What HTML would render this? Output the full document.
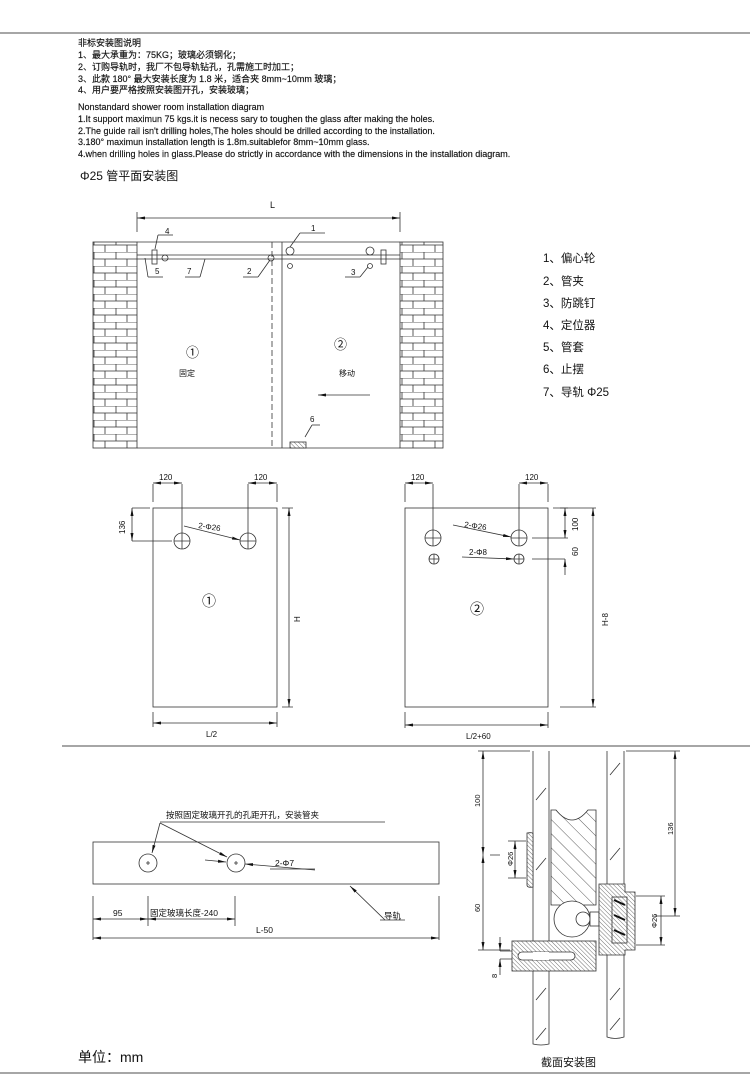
<!DOCTYPE html>
<html><head><meta charset="utf-8"><style>
body{margin:0;background:#fff}
svg{display:block}
text{font-family:"Liberation Sans","Noto Sans CJK SC",sans-serif;fill:#111}
.b text{stroke:#111;stroke-width:0.15}
</style></head><body>
<svg width="750" height="1085" viewBox="0 0 750 1085" xmlns="http://www.w3.org/2000/svg">
<defs>
<pattern id="brick" width="22" height="14" patternUnits="userSpaceOnUse">
<rect width="22" height="14" fill="#fff"/>
<path d="M0 0H22M0 7H22M6 0V7M17 7V14" stroke="#333" stroke-width="0.8"/>
</pattern>
<pattern id="hatch" width="10" height="10" patternUnits="userSpaceOnUse" patternTransform="rotate(-45)">
<rect width="10" height="10" fill="#fff"/><path d="M0 0V10" stroke="#333" stroke-width="0.8"/>
</pattern>
<pattern id="hatch2" width="3" height="3" patternUnits="userSpaceOnUse" patternTransform="rotate(-45)">
<rect width="3" height="3" fill="#fff"/><path d="M0 0V3" stroke="#333" stroke-width="0.7"/>
</pattern>
<marker id="a" markerWidth="8" markerHeight="6" refX="8" refY="3" orient="auto-start-reverse" markerUnits="userSpaceOnUse"><path d="M0 1.5L8 3L0 4.5z" fill="#111"/></marker>
</defs>
<g fill="none" stroke="#444" stroke-width="1">
<line x1="0" y1="33" x2="750" y2="33" stroke="#888" stroke-width="1.5"/>
<line x1="62" y1="746" x2="750" y2="746" stroke="#888" stroke-width="1.5"/>
<line x1="0" y1="1073" x2="750" y2="1073" stroke="#888" stroke-width="1.5"/>
</g>
<g font-size="9" class="b">
<text x="78" y="46">非标安装图说明</text>
<text x="78" y="58">1、最大承重为：75KG；玻璃必须钢化；</text>
<text x="78" y="70">2、订购导轨时，我厂不包导轨钻孔，孔需施工时加工；</text>
<text x="78" y="82">3、此款 180° 最大安装长度为 1.8 米，适合夹 8mm~10mm 玻璃；</text>
<text x="78" y="93">4、用户要严格按照安装图开孔，安装玻璃；</text>
<text x="78" y="110">Nonstandard shower room installation diagram</text>
<text x="78" y="122">1.It support maximun 75 kgs.it is necess sary to toughen the glass after making the holes.</text>
<text x="78" y="134">2.The guide rail isn't drilling holes,The holes should be drilled according to the installation.</text>
<text x="78" y="145">3.180°   maximun installation length is 1.8m.suitablefor 8mm~10mm glass.</text>
<text x="78" y="157">4.when drilling holes in glass.Please do strictly in accordance with the dimensions in the installation diagram.</text>
</g>
<text x="80" y="180" font-size="12">Φ25 管平面安装图</text>

<g stroke="#333" stroke-width="0.8" fill="none">
<rect x="93" y="242" width="44" height="206" fill="url(#brick)"/>
<rect x="400" y="242" width="43" height="206" fill="url(#brick)"/>
<line x1="137" y1="242" x2="400" y2="242"/>
<line x1="137" y1="448" x2="282" y2="448"/>
<line x1="282" y1="448" x2="400" y2="448"/>
<line x1="282" y1="242" x2="282" y2="448"/>
<line x1="272" y1="242" x2="272" y2="446" stroke-dasharray="6,3"/>
<line x1="137" y1="255" x2="400" y2="255"/>
<line x1="137" y1="259" x2="400" y2="259"/>
<rect x="152" y="250" width="5" height="14"/>
<rect x="381" y="250" width="5" height="14"/>
<circle cx="165" cy="258" r="3"/>
<circle cx="271" cy="258" r="3"/>
<circle cx="290" cy="251" r="4"/>
<circle cx="290" cy="266" r="2.5"/>
<circle cx="370" cy="251" r="4"/>
<circle cx="370" cy="266" r="2.5"/>
<line x1="137" y1="218" x2="400" y2="218" marker-start="url(#a)" marker-end="url(#a)"/>
<line x1="137" y1="212" x2="137" y2="232"/><line x1="400" y1="212" x2="400" y2="232"/>
<line x1="155" y1="249" x2="158" y2="235"/><line x1="158" y1="235" x2="173" y2="235"/>
<line x1="145" y1="258" x2="148" y2="277"/><line x1="148" y1="277" x2="163" y2="277"/>
<line x1="205" y1="259" x2="200" y2="277"/><line x1="200" y1="277" x2="185" y2="277"/>
<line x1="270" y1="260" x2="258" y2="277"/><line x1="258" y1="277" x2="243" y2="277"/>
<line x1="290" y1="247" x2="300" y2="233"/><line x1="300" y1="233" x2="325" y2="233"/>
<line x1="368" y1="267" x2="360" y2="277"/><line x1="360" y1="277" x2="345" y2="277"/>
<line x1="305" y1="437" x2="312" y2="425"/><line x1="312" y1="425" x2="320" y2="425"/>
<rect x="290" y="442" width="16" height="6" fill="url(#hatch2)"/>
<line x1="370" y1="395" x2="318" y2="395" marker-end="url(#a)"/>
</g>
<g font-size="8">
<text x="270" y="208" font-size="9">L</text>
<text x="165" y="234">4</text><text x="155" y="274">5</text><text x="187" y="274">7</text>
<text x="247" y="274">2</text><text x="311" y="231">1</text><text x="351" y="275">3</text><text x="310" y="422">6</text>
<text x="179" y="376">固定</text><text x="339" y="376">移动</text>
</g>
<text x="186" y="357" font-size="13">①</text>
<text x="334" y="349" font-size="13">②</text>
<g font-size="11.5">
<text x="543" y="262">1、偏心轮</text>
<text x="543" y="285">2、管夹</text>
<text x="543" y="307">3、防跳钉</text>
<text x="543" y="329">4、定位器</text>
<text x="543" y="351">5、管套</text>
<text x="543" y="373">6、止摆</text>
<text x="543" y="396">7、导轨 Φ25</text>
</g>

<g stroke="#333" stroke-width="0.8" fill="none">
<rect x="153" y="508" width="124" height="199"/>
<rect x="405" y="508" width="143" height="199"/>
<circle cx="182" cy="541" r="8"/><path d="M174 541h16M182 533v16"/>
<circle cx="248" cy="541" r="8"/><path d="M240 541h16M248 533v16"/>
<circle cx="433" cy="538" r="8"/><path d="M425 538h16M433 530v16"/>
<circle cx="519" cy="538" r="8"/><path d="M511 538h16M519 530v16"/>
<circle cx="434" cy="559" r="5"/><path d="M429 559h10M434 554v10"/>
<circle cx="519" cy="559" r="5"/><path d="M514 559h10M519 554v10"/>
<path d="M153 502V484M182 533V484M248 533V484M277 502V484"/>
<line x1="153" y1="483" x2="182" y2="483" marker-start="url(#a)" marker-end="url(#a)"/>
<line x1="248" y1="483" x2="277" y2="483" marker-start="url(#a)" marker-end="url(#a)"/>
<path d="M405 502V484M433 530V484M519 530V484M548 502V484"/>
<line x1="405" y1="483" x2="433" y2="483" marker-start="url(#a)" marker-end="url(#a)"/>
<line x1="519" y1="483" x2="548" y2="483" marker-start="url(#a)" marker-end="url(#a)"/>
<path d="M132 508H150M132 541H172"/>
<line x1="132" y1="508" x2="132" y2="541" marker-start="url(#a)" marker-end="url(#a)"/>
<path d="M282 508H293M282 707H293"/>
<line x1="289" y1="508" x2="289" y2="707" marker-start="url(#a)" marker-end="url(#a)"/>
<path d="M153 712V727M277 712V727M405 712V728M548 712V728"/>
<line x1="153" y1="723" x2="277" y2="723" marker-start="url(#a)" marker-end="url(#a)"/>
<line x1="405" y1="725" x2="548" y2="725" marker-start="url(#a)" marker-end="url(#a)"/>
<path d="M553 508H568M532 538H568M532 559H565"/>
<line x1="565" y1="508" x2="565" y2="538" marker-start="url(#a)" marker-end="url(#a)"/>
<line x1="565" y1="559" x2="565" y2="575" marker-start="url(#a)"/>
<path d="M560 508H596M560 707H596"/>
<line x1="593" y1="508" x2="593" y2="707" marker-start="url(#a)" marker-end="url(#a)"/>
<line x1="184" y1="526" x2="240" y2="540" marker-end="url(#a)"/>
<line x1="453" y1="525" x2="511" y2="537" marker-end="url(#a)"/>
<line x1="462" y1="557" x2="514" y2="559" marker-end="url(#a)"/>
</g>
<g font-size="8">
<text x="159" y="480">120</text><text x="254" y="480">120</text>
<text x="411" y="480">120</text><text x="525" y="480">120</text>
<text x="198" y="528" transform="rotate(8 198 528)">2-Φ26</text>
<text x="464" y="527" transform="rotate(8 464 527)">2-Φ26</text>
<text x="469" y="555">2-Φ8</text>
<text x="206" y="737">L/2</text><text x="466" y="739">L/2+60</text>
<text transform="translate(125 534) rotate(-90)">136</text>
<text transform="translate(300 622) rotate(-90)">H</text>
<text transform="translate(578 531) rotate(-90)">100</text>
<text transform="translate(578 556) rotate(-90)">60</text>
<text transform="translate(608 626) rotate(-90)">H-8</text>
</g>
<text x="202" y="606" font-size="14">①</text>
<text x="470" y="614" font-size="14">②</text>

<g stroke="#333" stroke-width="0.8" fill="none">
<rect x="93" y="842" width="346" height="42"/>
<circle cx="148" cy="863" r="9"/><circle cx="236" cy="863" r="9"/>
<path d="M146 863h4M148 861v4M234 863h4M236 861v4"/>
<path d="M160 822H385"/>
<line x1="160" y1="823" x2="152" y2="853" marker-end="url(#a)"/>
<line x1="160" y1="823" x2="227" y2="857" marker-end="url(#a)"/>
<line x1="205" y1="860" x2="226" y2="862" marker-end="url(#a)"/>
<path d="M315 870Q270 866 245 864" marker-end="url(#a)"/>
<path d="M270 869H315"/>
<line x1="385" y1="920" x2="350" y2="886" marker-end="url(#a)"/>
<path d="M380 920H405M93 896V940M148 896V926M235 896V926M439 896V940"/>
<line x1="93" y1="919" x2="148" y2="919" marker-start="url(#a)" marker-end="url(#a)"/>
<line x1="148" y1="919" x2="235" y2="919" marker-start="url(#a)" marker-end="url(#a)"/>
<line x1="93" y1="938" x2="439" y2="938" marker-start="url(#a)" marker-end="url(#a)"/>
</g>
<g font-size="8.5">
<text x="166" y="818">按照固定玻璃开孔的孔距开孔，安装管夹</text>
<text x="275" y="866">2-Φ7</text>
<text x="113" y="916">95</text>
<text x="150" y="916">固定玻璃长度-240</text>
<text x="384" y="919">导轨</text>
<text x="256" y="933">L-50</text>
</g>
<text x="78" y="1062" font-size="14">单位：mm</text>

<g stroke="#333" stroke-width="0.8" fill="none">
<path d="M533 751V1044Q541 1046 549 1044V751"/>
<path d="M607 751V1037Q615 1040 624 1037V751"/>
<path d="M536 800L546 788M536 870L546 858M536 1000L546 988M536 1040L546 1028M610 775L620 763M610 860L620 848M610 1000L620 988M610 1030L620 1018"/>
<path d="M551 810H556Q572 830 588 810H596V905H551Z" fill="url(#hatch)"/>
<path d="M527 833Q533 832 533 834V887Q527 888 527 885Z" fill="url(#hatch2)"/>
<circle cx="572" cy="919" r="18" fill="#fff"/>
<circle cx="583" cy="919" r="7" fill="#fff"/>
<rect x="590" y="912" width="9" height="14" fill="#fff"/>
<rect x="512" y="941" width="84" height="30" fill="url(#hatch2)"/>
<rect x="518" y="952" width="57" height="8" rx="4" fill="#fff"/>
<rect x="533" y="952" width="16" height="8" fill="#fff" stroke="none"/>
<path d="M599 884H625V892H635V950H625V955H599Z" fill="url(#hatch2)"/>
<rect x="612" y="897" width="15" height="46" fill="url(#hatch2)"/>
<path d="M614 900L625 905M614 915L625 920M614 930L625 935" stroke="#111" stroke-width="2"/>
<path d="M478 751H530M478 950H510M490 855H500"/>
<line x1="483" y1="751" x2="483" y2="855" marker-start="url(#a)" marker-end="url(#a)"/>
<line x1="483" y1="855" x2="483" y2="950" marker-start="url(#a)" marker-end="url(#a)"/>
<path d="M508 841H526M508 878H526"/>
<line x1="515" y1="841" x2="515" y2="878" marker-start="url(#a)" marker-end="url(#a)"/>
<path d="M500 951H512M500 959H512"/>
<line x1="500" y1="937" x2="500" y2="951" marker-end="url(#a)"/>
<line x1="500" y1="975" x2="500" y2="959" marker-end="url(#a)"/>
<path d="M626 751H680M655 916H680M636 896H665M636 945H665"/>
<line x1="675" y1="751" x2="675" y2="916" marker-start="url(#a)" marker-end="url(#a)"/>
<line x1="661" y1="896" x2="661" y2="945" marker-start="url(#a)" marker-end="url(#a)"/>
</g>
<g font-size="7.5">
<text transform="translate(480 807) rotate(-90)">100</text>
<text transform="translate(480 912) rotate(-90)">60</text>
<text transform="translate(513 866) rotate(-90)">Φ26</text>
<text transform="translate(497 978) rotate(-90)">8</text>
<text transform="translate(673 835) rotate(-90)">136</text>
<text transform="translate(657 928) rotate(-90)">Φ26</text>
</g>
<text x="541" y="1066" font-size="11">截面安装图</text>
</svg>
</body></html>
